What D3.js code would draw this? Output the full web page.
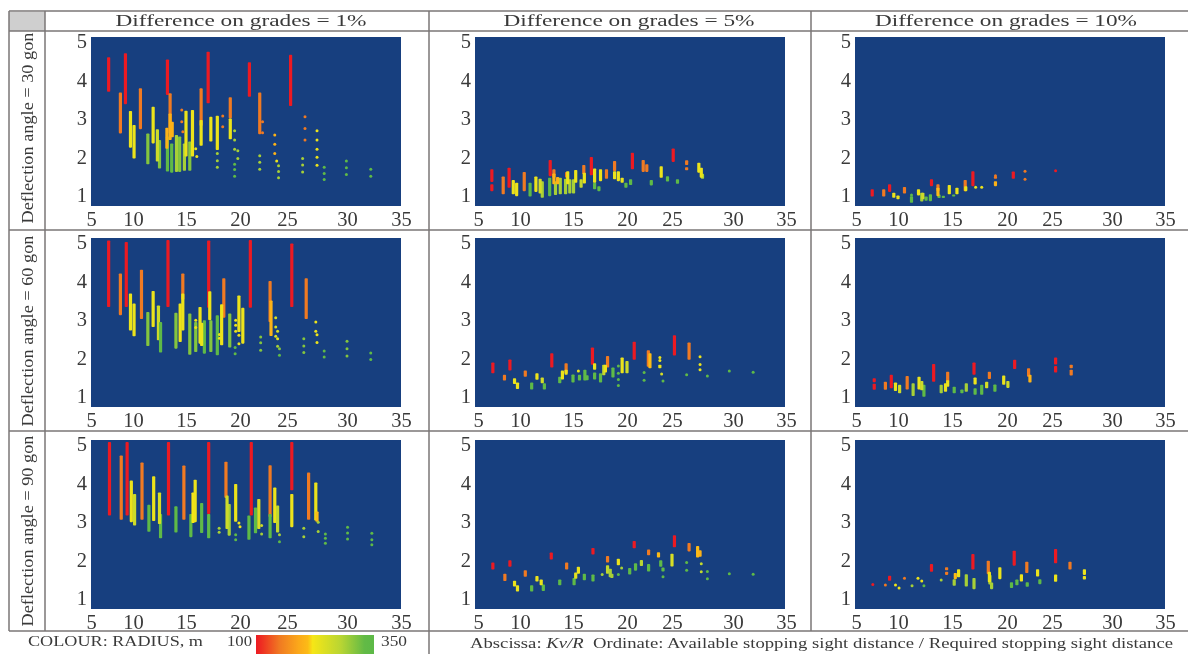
<!DOCTYPE html>
<html><head><meta charset="utf-8">
<script src="https://cdn.jsdelivr.net/npm/d3@7/dist/d3.min.js"></script>
<style>
html,body{margin:0;padding:0;background:#fff;overflow:hidden}
svg{display:block;filter:blur(.6px)}
text{font-family:"Liberation Serif",serif;fill:#3a3a3a}
</style></head><body><svg id="c" width="1188" height="654"></svg>
<script>
// Tick labels and headings
const xTicks=[5,10,15,20,25,30,35];
const yTicks=[1,2,3,4,5];
const gradeTitles=["Difference on grades = 1%","Difference on grades = 5%","Difference on grades = 10%"];
const angleTitles=["Deflection angle = 30 gon","Deflection angle = 60 gon","Deflection angle = 90 gon"];
// Radius colour classes (m)
const R=100,O=150,A=200,Y=230,L=290,G=340;

// Bars: [Kv/R, low ratio, high ratio, radius]  Dots: [Kv/R, ratio, radius]
const bars_30_1=[[7.1,3.68,4.58,R],[9.1,3.36,4.68,R],[13.25,3.6,4.52,R],[17.05,3.38,4.72,R],[21,3.55,4.45,R],[25.3,3.31,4.64,R],
[8.5,2.6,3.66,O],[10.7,2.71,3.77,O],[13.5,2.6,3.64,O],[16.4,2.8,3.77,O],[19.1,2.99,3.54,O],[22.1,2.58,3.66,O],
[11.4,1.8,2.6,L+20],[12.5,1.69,2.43,L+20],[13.25,1.61,2.52,G],[13.65,1.58,2.34,G],[14.1,1.6,2.56,L],[14.4,1.6,2.52,L+20],[14.85,1.63,2.34,L],[15.35,1.63,2.39,L+20],
[9.7,2.23,3.18,Y],[10.1,1.95,2.82,Y],[11.9,2.34,3.29,Y],[12.3,1.87,2.71,Y+30],[15,2,3.19,Y],[15.6,2,3.21,Y],[16.4,2.28,2.95,Y],[17.3,2.39,3.03,Y],[17.9,2.17,3.06,Y],[19.1,2.45,2.99,Y],
[13.2,2.2,2.75,A],[13.5,2.43,3.12,A],[13.7,2.5,2.9,A]];
const dots_30_1=[[14.6,3.21,O],[14.6,2.9,O],[14.7,2.64,O],[18.4,3.05,O],[18.4,2.77,O],[22.4,2.9,O],[22.4,2.62,O],[26.5,3.03,O],[26.5,2.73,O],[26.5,2.43,O],
[15.9,2.2,Y],[16,2,Y],[17.9,2.08,L],[17.9,1.89,L],[17.9,1.72,L],[19.5,2.67,L],[19.5,2.43,L],[19.5,2.19,L],[19.5,1.8,G],[19.5,1.66,G],[19.5,1.49,G],[19.8,2.15,L],[19.8,1.95,L],
[22.1,2.02,L],[22.1,1.85,L],[22.1,1.67,L],[23.7,2.56,A],[23.7,2.32,A],[23.7,2.08,A],[23.9,1.88,Y],[24.1,1.76,L],[24.1,1.61,L],[24.1,1.45,L],
[26.3,1.95,L],[26.3,1.78,L],[26.3,1.6,L],[27.5,2.67,Y],[27.5,2.43,Y],[27.5,2.19,Y],[27.5,1.98,Y],[27.5,1.77,Y],[28.1,1.72,G],[28.1,1.56,G],[28.1,1.4,G],
[29.95,1.88,G],[29.95,1.71,G],[29.95,1.53,G],[32.2,1.67,G],[32.2,1.49,G]];

const bars_60_1=[[7.1,3.31,5.04,R],[9.2,3.31,5,R],[13.3,3.31,5.05,R],[17.1,3.29,5.04,R],[21.1,3.29,5.05,R],[25.4,3.31,4.96,R],
[8.5,3.1,4.18,O],[10.8,3,4.28,O],[14.7,3.5,4.18,O],[18.5,3.03,4.06,O],[23.2,2.92,3.99,O],[26.6,3,4.06,O],
[9.7,2.7,3.66,Y],[10.1,2.55,3.4,Y],[11.9,2.79,3.73,Y],[12.4,2.45,3.35,Y+30],[14.45,2.4,3.4,Y],[14.7,2.7,3.66,Y],[16.3,2.36,3.31,Y],[17.2,2.97,3.72,Y],[18.3,2.32,3.38,Y],[19.9,2.66,3.61,Y],[20.3,2.36,3.29,Y],[23.3,2.56,3.48,A],
[11.4,2.3,3.18,L+20],[12.6,2.13,2.92,G],[14.05,2.23,3.16,L+20],[15.35,2.07,3.14,L+20],[15.9,2.14,2.92,L+20],[16.7,2.1,2.97,G],[16.45,2.3,2.9,Y],[17.3,2.14,2.97,L+20],[17.9,2.06,3.1,G],[19.05,2.26,3.14,L+20]];
const dots_60_1=[[15.9,2.97,Y],[15.9,2.78,Y],[18.1,2.6,Y],[18.1,2.5,Y],[19.55,2.26,G],[19.55,2.1,G],[19.6,2.97,Y],[19.6,2.84,Y],[19.6,2.68,Y],[19.9,2.58,Y],[19.9,2.36,Y],
[22.2,2.53,L+20],[22.2,2.38,L+20],[22.2,2.19,L+20],[23.8,3.03,Y+20],[23.8,2.79,Y+20],[24,2.68,Y+20],[23.8,2.55,Y+20],[24,2.49,Y],[24,2.29,L],[24.2,2.23,L+20],[24.2,2.06,G],
[26.4,2.49,L+20],[26.4,2.3,L+20],[26.4,2.13,L+20],[27.4,2.92,Y],[27.4,2.68,Y],[27.5,2.59,Y],[27.5,2.39,Y],[28.1,2.17,G],[28.1,2.01,G],[30,2.42,L+20],[30,2.23,L+20],[30,2.04,L+20],[32.2,2.12,G],[32.2,1.95,G]];

const bars_90_1=[[7.2,3.14,5.05,R],[9.3,3.14,5.05,R],[13.35,3.14,5.05,R],[17.1,3.18,5.05,R],[21.2,3.14,5.05,R],[25.4,3.8,5.05,R],
[8.6,3.03,4.7,O],[10.85,3.03,4.52,O],[14.8,3.03,4.44,O],[18.7,3.6,4.54,O],[23.2,3.1,4.45,O],[26.8,3.03,4.26,O],
[11.5,2.72,3.42,G],[12.6,2.55,3.18,G],[14.05,2.7,3.38,G],[15.45,2.58,3.18,G],[16.45,2.69,3.47,G],[17.1,2.55,3.18,G],[19,2.62,3.44,L],[20.95,2.51,3.14,G],[21.65,2.68,3.35,G],[23.2,2.55,3.18,G],
[9.8,2.97,4.05,Y],[10.15,2.88,3.7,L-30],[11.95,3,4.16,Y],[12.5,2.92,3.74,Y+20],[15.65,2.95,3.74,A+20],[15.85,2.97,4.07,Y],[18.8,2.79,3.66,L-30],[19.6,2.98,3.96,Y],[22,2.79,3.57,Y+20],[23.7,2.95,3.87,Y],[24,2.7,3.4,L-20],[25.4,2.84,3.7,Y],[27.4,3.01,4,Y],[27.5,2.98,3.25,A+10]];
const dots_90_1=[[18.07,2.81,L],[18.07,2.71,L],[19.6,2.64,G],[19.6,2.51,G],[19.9,2.95,Y],[20,2.85,Y],[22.3,2.88,Y+30],[22.3,2.66,L],[24.2,2.64,L],[24.2,2.46,G],
[26.4,2.81,L],[26.4,2.59,L],[27.6,2.97,L],[27.6,2.73,L],[28.2,2.66,G],[28.2,2.55,G],[28.2,2.42,G],[30.05,2.84,G],[30.05,2.69,G],[30.05,2.53,G],[32.3,2.68,G],[32.3,2.51,G],[32.3,2.38,G]];

const bars_30_5=[[6.65,1.34,1.67,R],[6.65,1.1,1.28,R],[8.7,1.19,1.71,R],[12.85,1.49,1.91,R],[16.7,1.51,1.99,R],[20.6,1.67,2.1,R],[25.1,1.86,2.21,R],
[8,1.02,1.48,O],[10.4,1.1,1.6,O],[13.2,1.45,1.67,O],[14.4,1.45,1.6,O],[16,1.54,1.78,O],[18.1,1.42,1.67,O],[18.85,1.62,1.88,O],[21.8,1.6,1.91,O],[22.2,1.6,1.8,O],[26.2,1.78,1.9,O],[26.2,1.64,1.72,O],
[10.95,.96,1.32,G],[12.1,.93,1.36,L],[12.8,.97,1.45,G],[13.35,1,1.36,L],[13.8,1.02,1.45,L],[14.3,1.02,1.42,L],[14.7,1.04,1.41,L],[15.05,1.04,1.41,L],[15.75,1.19,1.41,L-20],[17,1.15,1.32,G],[17.4,1.1,1.23,G],[19.9,1.19,1.32,G],[20.4,1.26,1.41,G],[22.7,1.25,1.39,G],[24.5,1.35,1.49,G],[25.45,1.29,1.41,G],[27.5,1.42,1.55,L],
[9.2,1.02,1.39,Y],[9.6,.97,1.32,Y],[11.5,1.08,1.48,Y],[11.9,1.04,1.42,Y+25],[14.5,1.28,1.62,Y],[15.25,1.32,1.65,Y],[16.05,1.3,1.58,Y],[17,1.32,1.69,Y],[17.55,1.36,1.67,Y],[18.85,1.41,1.62,Y],[19.2,1.36,1.62,Y],[19.55,1.32,1.45,Y],[23.8,1.45,1.75,Y],[27.2,1.58,1.84,Y],[27.4,1.45,1.71,Y],
[13.2,1.28,1.56,A],[13.55,1.28,1.47,A]];
const dots_30_5=[];

const bars_60_5=[[6.77,1.59,1.87,R],[8.8,1.66,1.95,R],[13,1.74,2.11,R],[16.8,1.81,2.26,R],[20.8,1.94,2.41,R],[25.2,2.05,2.58,R],
[8.15,1.4,1.55,O],[10.5,1.5,1.66,O],[14.35,1.59,1.85,O],[18.2,1.74,2.04,O],[22.37,1.76,2.19,O],[26.4,1.94,2.39,O],
[11.1,1.17,1.35,G],[12.3,1.17,1.33,G],[13.75,1.33,1.5,G],[15,1.35,1.56,G],[15.6,1.4,1.55,G],[16.1,1.4,1.68,G],[16.3,1.41,1.54,G],[17,1.43,1.61,G],[17.55,1.35,1.59,G],[17.85,1.54,1.81,L-20],[18.7,1.48,1.74,G],[20,1.59,1.91,L-30],
[9.35,1.31,1.46,Y],[9.7,1.18,1.35,Y],[11.6,1.42,1.59,Y],[12.1,1.33,1.48,Y+25],[14,1.43,1.66,Y],[14.35,1.55,1.68,Y],[17,1.68,1.85,Y],[18,1.61,1.81,Y],[19.55,1.59,2,Y],[22.55,1.72,2.11,A+10],[23.65,1.72,1.81,Y]];
const dots_60_5=[[15.5,1.65,Y],[23.65,2,Y],[23.65,1.92,Y],[19.2,1.78,G],[19.2,1.59,G],[19.2,1.43,G],[19.2,1.27,G],[21.9,1.61,G],[21.9,1.41,G],[23.85,1.57,Y+20],[24,1.39,G],[26.2,1.55,G],[27.3,2.02,Y],[27.3,1.82,Y],[27.3,1.68,Y],[27.9,1.52,G],[29.7,1.65,G],[31.9,1.62,G]];

const bars_90_5=[[6.77,1.74,1.92,R],[8.8,1.81,1.98,R],[12.95,2,2.18,R],[16.85,2.13,2.3,R],[20.8,2.29,2.48,R],[25.2,2.32,2.63,R],
[8.2,1.44,1.63,O],[10.5,1.55,1.72,O],[14.4,1.74,1.92,O],[18.2,1.92,2.09,O],[22.4,2.11,2.26,O],[26.4,2.21,2.43,O],
[11.1,1.17,1.33,G],[12.2,1.18,1.35,G],[13.75,1.33,1.48,G],[15.1,1.33,1.52,G],[16.05,1.46,1.63,G],[16.85,1.43,1.61,G],[18.2,1.63,1.85,L-20],[18.45,1.54,1.76,L],[18.6,1.52,1.63,L],[20.3,1.61,1.78,G],[20.95,1.71,1.9,G],[21.6,1.83,1.99,L-10],[22.4,1.69,1.88,G],[23.75,1.81,1.98,G],[24,1.69,1.79,G],[25,1.82,2.15,L-40],
[9.35,1.3,1.45,Y],[9.7,1.17,1.33,Y],[11.6,1.43,1.57,Y],[12,1.33,1.48,Y],[15.25,1.5,1.66,Y+10],[15.5,1.63,1.81,Y],[19.2,1.85,2.02,Y],[23.5,2.05,2.19,A+10],[27.1,2.05,2.35,A+10],[27.3,2.07,2.24,A]];
const dots_90_5=[[17.7,1.61,L],[19.2,1.61,G],[19.5,1.78,L],[24,1.55,G],[26.2,1.92,G],[26.2,1.72,G],[27.4,1.89,L-20],[27.4,1.68,L-20],[27.9,1.69,G],[27.9,1.5,G],[29.7,1.63,G],[31.9,1.62,G]];

const bars_30_10=[[6.93,.96,1.15,R],[9,1.08,1.28,R],[13.1,1.23,1.41,R],[16.9,1.23,1.62,R],[20.7,1.42,1.61,R],
[8.3,.96,1.15,O],[10.6,1.04,1.21,O],[13.7,1.1,1.28,O],[16.2,1.1,1.39,O],[18.95,1.42,1.49,O],[18.95,1.23,1.36,A],
[11.25,.8,.97,G],[12.2,.83,1.06,L],[12.6,.85,.96,G],[13,.84,1.02,G],[13.8,.92,1.01,G],[14.2,.92,.98,G],[15.15,.96,1.01,G],
[9.5,.93,1.06,Y],[10,.89,.99,Y],[11.9,.99,1.15,Y],[12.3,.89,1.06,Y+30],[13.7,.97,1.19,A+10],[14.75,1.02,1.26,Y],[15.45,1.02,1.19,Y],[16.25,1.1,1.23,Y]];
const dots_30_10=[[25.3,1.63,R],[22,1.62,O],[22,1.41,O],[18.95,1.5,O],[17.15,1.2,Y],[17.7,1.2,Y],[11.25,1,G]];

const bars_60_10=[[7.17,1.36,1.46,R],[7.17,1.16,1.32,R],[9.2,1.2,1.55,R],[13.3,1.37,1.83,R],[17,1.55,1.87,R],[20.85,1.7,1.94,R],[25.3,1.82,2,R],[25.3,1.61,1.78,R],
[8.5,1.16,1.37,O],[10.85,1.17,1.52,O],[14.6,1.37,1.63,O],[18.4,1.44,1.63,O],[22.4,1.5,1.72,O],[26.6,1.53,1.68,O],[26.6,1.72,1.81,O],
[11.4,1,1.33,L],[12.4,.98,1.29,G],[14,1.07,1.29,L],[15.2,1.07,1.24,G],[15.9,1.07,1.17,G],[16.3,1.11,1.33,L],[17.1,1.03,1.2,G],[17.7,1.03,1.29,G],[18.9,1.11,1.3,G],
[9.7,1.13,1.35,Y],[10.15,1.07,1.29,L-30],[11.95,1.17,1.5,Y],[12.2,1.15,1.39,Y+30],[14.4,1.11,1.33,Y],[14.6,1.24,1.41,Y],[17.1,1.3,1.48,Y],[18.15,1.2,1.37,Y+20],[19.7,1.29,1.53,Y],[20.1,1.21,1.39,Y+30],[22.55,1.35,1.55,A]];
const dots_60_10=[];

const bars_90_10=[[9,1.45,1.58,R],[13.1,1.68,1.88,R],[16.9,1.74,2.14,R],[20.8,1.84,2.23,R],[25.3,1.9,2.27,R],
[14.5,1.6,1.68,O],[14.5,1.72,1.8,O],[18.3,1.62,1.97,O],[22.2,1.65,1.94,O],[26.5,1.74,1.94,O],
[15.2,1.32,1.49,L],[16.3,1.3,1.62,L],[17,1.23,1.52,L],[18.45,1.35,1.6,L],[18.6,1.23,1.4,L],[20.5,1.26,1.41,G],[21.1,1.33,1.48,G],[22.25,1.29,1.41,G],[23.65,1.36,1.49,G],
[15.3,1.49,1.65,A+10],[15.6,1.54,1.75,Y],[18.4,1.41,1.68,Y],[19.35,1.49,1.8,Y],[21.6,1.43,1.62,Y],[23.4,1.56,1.75,Y],[25.3,1.42,1.61,Y],[27.7,1.6,1.75,Y],[27.7,1.48,1.57,Y]];
const dots_90_10=[[7,1.35,R],[8.5,1.34,O],[10.6,1.51,O],[9.7,1.34,Y],[10.1,1.26,Y],[11.85,1.51,Y],[12.2,1.44,Y],[11.3,1.32,L],[12.4,1.32,G],[14,1.47,L]];

const panelBars=[[bars_30_1,bars_30_5,bars_30_10],[bars_60_1,bars_60_5,bars_60_10],[bars_90_1,bars_90_5,bars_90_10]];
const panelDots=[[dots_30_1,dots_30_5,dots_30_10],[dots_60_1,dots_60_5,dots_60_10],[dots_90_1,dots_90_5,dots_90_10]];

// Colour bar stops
const radiusStops=[100,112,150,190,210,220,280,330,350];
const radiusColours=["#ec1a22","#ee2e22","#f07a22","#fba81a","#fcbb16","#f6e616","#b8d533","#62ba46","#5cb947"];
const colour=d3.scaleLinear().domain(radiusStops).range(radiusColours);

// Layout
const plotLefts=[91,475,855], plotTops=[37,238,440], plotW=310, plotH=169;
const labelX=[[91,133,186,240,287,347,401],[478,520,573,627,672,733,786],[856,898,952,1007,1052,1112,1165]];
const lineCol="#7a7676";
const svg=d3.select("#c");

svg.append("rect").attr("x",9).attr("y",12).attr("width",36).attr("height",19).attr("fill","#cfcfcf");
const vLines=[[9,11,631],[45,11,631],[429,11,654],[811,11,631]];
const hLines=[[9,1188,11],[9,1188,31],[9,1188,230],[9,1188,431],[9,1188,631]];
svg.selectAll(".v").data(vLines).join("line").attr("x1",d=>d[0]).attr("x2",d=>d[0]).attr("y1",d=>d[1]).attr("y2",d=>d[2]).attr("stroke",lineCol).attr("stroke-width",1.5);
svg.selectAll(".h").data(hLines).join("line").attr("x1",d=>d[0]).attr("x2",d=>d[1]).attr("y1",d=>d[2]).attr("y2",d=>d[2]).attr("stroke",lineCol).attr("stroke-width",1.5);

const titleCx=[241,629,1006];
gradeTitles.forEach((t,i)=>svg.append("text").attr("x",titleCx[i]).attr("y",26).attr("text-anchor","middle").attr("font-size",17.5)
  .attr("textLength",i==2?262:251).attr("lengthAdjust","spacingAndGlyphs").text(t));
const rowCy=[128,331,531];
angleTitles.forEach((t,i)=>svg.append("text").attr("transform",`translate(33,${rowCy[i]}) rotate(-90)`).attr("text-anchor","middle").attr("font-size",16.5)
  .attr("textLength",191).attr("lengthAdjust","spacingAndGlyphs").text(t));

plotTops.forEach((top,r)=>plotLefts.forEach((left,c)=>{
  const x=d3.scaleLinear().domain(xTicks).range(labelX[c]);
  const y=d3.scaleLinear().domain([1,5]).range([top+158,top+4]);
  const g=svg.append("g");
  g.append("rect").attr("x",left).attr("y",top).attr("width",plotW).attr("height",plotH).attr("fill","#173f7f");
  g.selectAll("rect.b").data(panelBars[r][c]).join("rect").attr("class","b")
    .attr("x",d=>x(d[0])-1.6).attr("width",3.2).attr("y",d=>y(d[2])).attr("height",d=>y(d[1])-y(d[2])).attr("rx",.8).attr("fill",d=>colour(d[3]));
  g.selectAll("circle").data(panelDots[r][c]).join("circle")
    .attr("cx",d=>x(d[0])).attr("cy",d=>y(d[1])).attr("r",1.5).attr("fill",d=>colour(d[2]));
  const ax=g.append("g").attr("transform",`translate(0,${top+plotH})`).call(d3.axisBottom(x).tickValues(xTicks).tickSize(0).tickPadding(5).tickFormat(d3.format("d")));
  const ay=g.append("g").attr("transform",`translate(${left-4},0)`).call(d3.axisLeft(y).tickValues(yTicks).tickSize(0).tickPadding(0).tickFormat(d3.format("d")));
  [ax,ay].forEach(a=>{a.select(".domain").remove();a.selectAll("text").attr("font-family","Liberation Serif").attr("font-size",20.5).attr("fill","#3a3a3a");});
}));

// Legend
const lx=d3.scaleLinear().domain([100,350]).range([256,374]);
const grad=svg.append("defs").append("linearGradient").attr("id","rb");
radiusStops.forEach((s,i)=>grad.append("stop").attr("offset",(s-100)/250).attr("stop-color",radiusColours[i]));
svg.append("rect").attr("x",lx(100)).attr("y",635).attr("width",lx(350)-lx(100)).attr("height",19).attr("fill","url(#rb)");
const small=(x,y,t,len)=>svg.append("text").attr("x",x).attr("y",y).attr("font-size",14).attr("textLength",len).attr("lengthAdjust","spacingAndGlyphs").text(t);
small(28,646,"COLOUR: RADIUS, m",175);
small(227,646,"100",25);
small(381,646,"350",26);
const note=svg.append("text").attr("x",470).attr("y",648).attr("font-size",15).attr("textLength",703).attr("lengthAdjust","spacingAndGlyphs");
note.append("tspan").text("Abscissa: ");
note.append("tspan").attr("font-style","italic").text("Kv/R");
note.append("tspan").text("\u00a0 Ordinate: Available stopping sight distance / Required stopping sight distance");
</script></body></html>
